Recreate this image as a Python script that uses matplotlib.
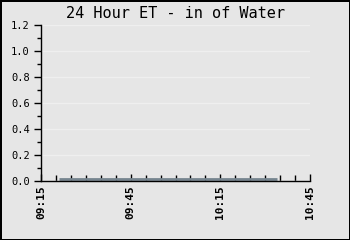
import matplotlib
matplotlib.use('Agg')
from matplotlib import pyplot as plt
import matplotlib.dates as mdates
from matplotlib.ticker import MultipleLocator
from datetime import datetime

# Datos (una lectura cada 5 min aprox.)
times = ['09:21', '09:26', '09:31', '09:36', '09:41', '09:46', '09:51', '09:56',
         '10:01', '10:06', '10:11', '10:16', '10:21', '10:26', '10:31', '10:34']
et_values = [0.012] * len(times)
x_start, x_end = '09:15', '10:45'

def to_dt(s):
    return datetime.strptime('2024-01-01 ' + s, '%Y-%m-%d %H:%M')

fecha = [to_dt(t) for t in times]

bg = '#e6e6e6'
fig = plt.figure(figsize=(3.5, 2.4), dpi=100)
fig.patch.set_facecolor(bg)
fig.patch.set_edgecolor('black')
fig.patch.set_linewidth(2)

ax = fig.add_axes([0.117, 0.246, 0.769, 0.65])
ax.set_facecolor(bg)

ax.plot(fecha, et_values, color='#76858f', linewidth=2, solid_capstyle='butt',
        clip_on=False, zorder=2.4)

ax.set_xlim(to_dt(x_start), to_dt(x_end))
ax.set_ylim(0, 1.2)

# Rejilla horizontal
ax.yaxis.set_major_locator(MultipleLocator(0.2))
ax.yaxis.set_minor_locator(MultipleLocator(0.1))
ax.grid(axis='y', which='major', color='#efefef', linewidth=1)
ax.set_axisbelow(True)

ax.xaxis.set_major_locator(mdates.MinuteLocator(byminute=[15, 45]))
ax.xaxis.set_minor_locator(mdates.MinuteLocator(byminute=range(0, 60, 5)))
ax.xaxis.set_major_formatter(mdates.DateFormatter('%H:%M'))

for s in ['top', 'right']:
    ax.spines[s].set_visible(False)
for s in ['left', 'bottom']:
    ax.spines[s].set_color('black')
    ax.spines[s].set_linewidth(1)

ax.tick_params(axis='y', which='major', direction='out', length=5, width=1, pad=3,
               labelsize=7.5, labelfontfamily='DejaVu Sans Mono')
ax.tick_params(axis='y', which='minor', direction='out', length=3, width=1)
ax.tick_params(axis='x', which='major', direction='in', length=5, width=1, pad=3,
               labelsize=8, labelfontfamily='DejaVu Sans Mono', labelrotation=90)
ax.tick_params(axis='x', which='minor', direction='in', length=4, width=1)
for lbl in ax.get_xticklabels():
    lbl.set_fontweight('bold')

fig.suptitle('24 Hour ET - in of Water', x=0.5, y=0.975, fontsize=11,
             family='DejaVu Sans Mono')

fig.savefig('out.png', dpi=100, facecolor=fig.get_facecolor(), edgecolor=fig.get_edgecolor())
